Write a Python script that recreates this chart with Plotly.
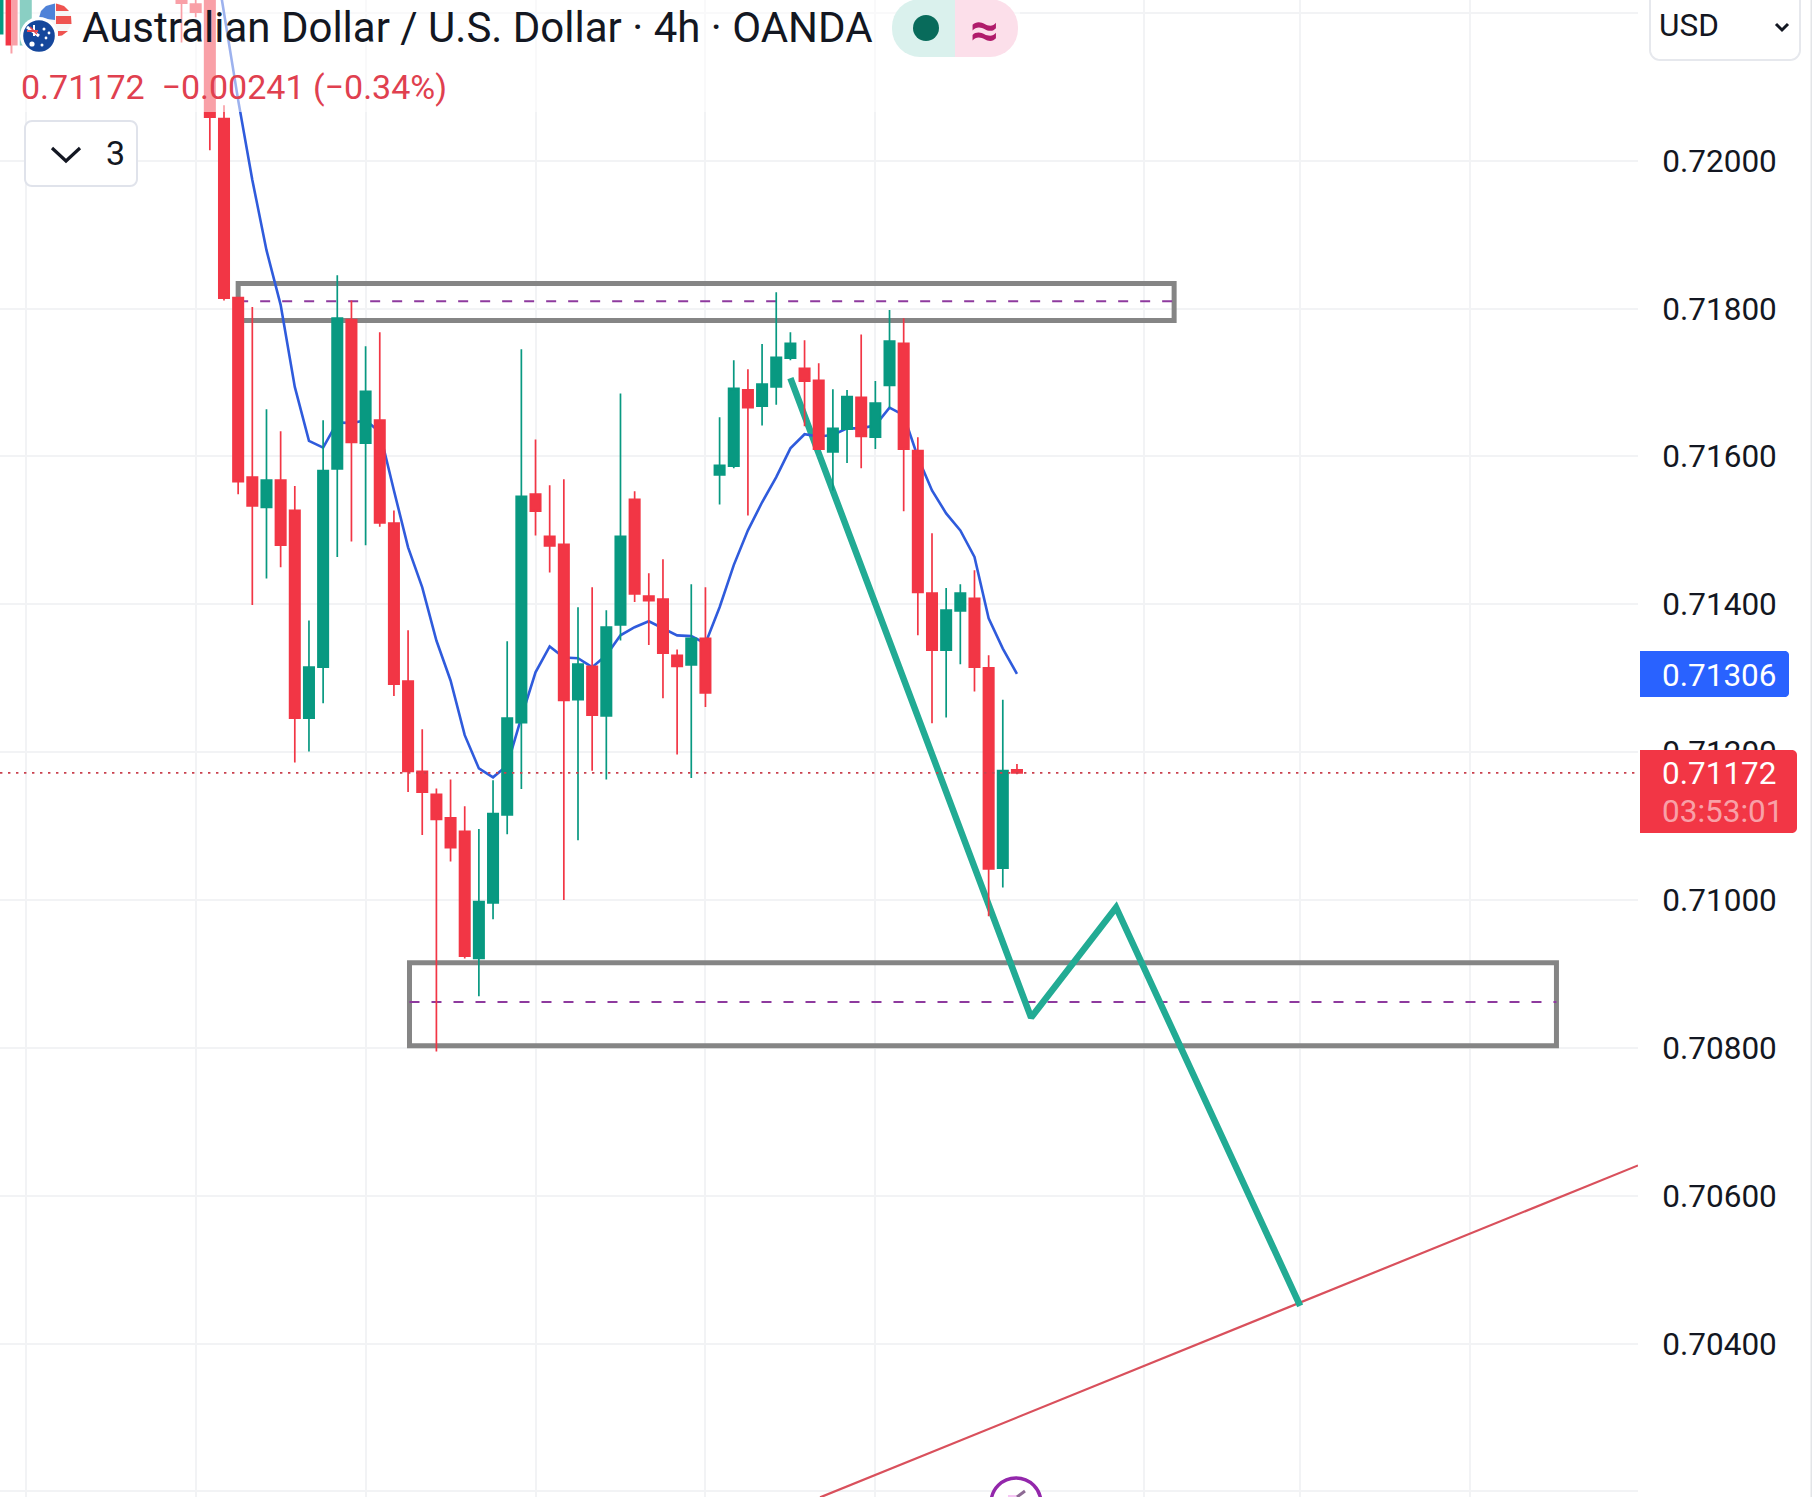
import plotly.graph_objects as go

# ---- chart values ----
candle_index = [-16, -15, -14, -3, -2, -1] + list(range(57))
open_prices = [
    .72172, .72244, .72157, .72230, .72212, .72285,
    .72057, .71815, .71572, .71531, .71568, .71527, .71246, .71315, .71583, .71785,
    .71618, .71649, .71510, .71296, .71174, .71143, .71111, .71093, .70921, .70996,
    .71115, .71240, .71549, .71492, .71481, .71271, .71316, .71249, .71372, .71542,
    .71411, .71407, .71331, .71318, .71354, .71575, .71587, .71690, .71668, .71694,
    .71733, .71719, .71703, .71606, .71637, .71680, .71626, .71696, .71753, .71608,
    .71415, .71338, .71391, .71408, .71314, .71043, .71176]
high_prices = [
    .72250, .72260, .72260, .72270, .72250, .72298,
    .72075, .71815, .71802, .71664, .71634, .71560, .71378, .71649, .71845, .71811,
    .71749, .71768, .71527, .71365, .71231, .71151, .71163, .71127, .71096, .71162,
    .71350, .71745, .71623, .71561, .71569, .71396, .71423, .71392, .71685, .71553,
    .71442, .71461, .71339, .71427, .71423, .71653, .71730, .71718, .71752, .71822,
    .71768, .71757, .71726, .71691, .71690, .71765, .71702, .71798, .71787, .71626,
    .71496, .71422, .71427, .71446, .71331, .71271, .71184]
low_prices = [
    .72172, .72145, .72157, .72160, .72194, .72014,
    .71811, .71549, .71399, .71435, .71450, .71186, .71201, .71266, .71464, .71485,
    .71480, .71505, .71276, .71146, .71088, .70795, .71052, .70921, .70870, .70974,
    .71089, .71150, .71493, .71443, .71000, .71081, .71175, .71163, .71351, .71403,
    .71345, .71273, .71197, .71165, .71261, .71535, .71584, .71520, .71642, .71670,
    .71730, .71641, .71610, .71554, .71591, .71584, .71610, .71666, .71526, .71358,
    .71239, .71247, .71319, .71282, .70978, .71017, .71170]
close_prices = [
    .72244, .72157, .72244, .72213, .72201, .72059,
    .71814, .71566, .71533, .71568, .71480, .71246, .71315, .71581, .71787, .71619,
    .71688, .71510, .71292, .71174, .71146, .71109, .71071, .70924, .70998, .71117,
    .71246, .71546, .71526, .71479, .71270, .71319, .71250, .71369, .71492, .71414,
    .71405, .71334, .71316, .71354, .71280, .71588, .71692, .71666, .71698, .71734,
    .71753, .71702, .71610, .71638, .71681, .71627, .71672, .71756, .71610, .71416,
    .71338, .71392, .71415, .71315, .71042, .71175, .71172]

ma_index = list(range(-1, 57))
ma_values = [
    .72318, .72201, .72082, .71974, .71879, .71805, .71694, .71621, .71612, .71646,
    .71645, .71649, .71633, .71554, .71477, .71423, .71351, .71297, .71223, .71178,
    .71166, .71182, .71247, .71308, .71343, .71328, .71327, .71315, .71331, .71358,
    .71369, .71377, .71368, .71358, .71357, .71347, .71396, .71453, .71500, .71538,
    .71572, .71611, .71630, .71627, .71629, .71638, .71638, .71642, .71666, .71656,
    .71599, .71554, .71523, .71500, .71464, .71381, .71340, .71306]

path_index = [40, 57, 63, 76]
path_values = [.71706, .70841, .70990, .70451]

trend_index = [42.1, 99.86]
trend_values = [.70192, .70641]

upper_zone = [1.0, 67.1, .71784, .71834]
upper_mid = .71810
lower_zone = [13.1, 94.1, .70803, .70915]
lower_mid = .70862
last_price = .71172
ma_last = .71306

price_ticks = [.702, .704, .706, .708, .710, .712, .714, .716, .718, .720, .722]
price_labels = ["0.70200", "0.70400", "0.70600", "0.70800", "0.71000", "0.71200",
                "0.71400", "0.71600", "0.71800", "0.72000", ""]
time_grid = [-14, -2, 10, 22, 34, 46, 65, 76, 88]

x_range = [-15.819, 99.859]
y_range = [.701925, .722174]

# ---- styling ----
W, H = 1812, 1497
PLOT_R = 1638
UP, DOWN = "#089981", "#f23645"
GRID = "#f2f3f5"
INK = "#131722"
FONT = "Roboto"


def px(x, y):
    return x / PLOT_R, 1 - y / H


def path_of(points, close=False):
    s = ""
    for i, (x, y) in enumerate(points):
        a, b = px(x, y)
        s += ("M" if i == 0 else "L") + f"{a:.6f},{b:.6f} "
    return s + ("Z" if close else "")


def rounded(x0, y0, x1, y1, r, corners=(True, True, True, True)):
    """rounded rectangle path in page pixels, tl tr br bl"""
    import math
    pts = []
    def arc(cx, cy, a0, rr):
        for k in range(9):
            t = math.radians(a0 + k * 90 / 8)
            pts.append((cx + rr * math.cos(t), cy + rr * math.sin(t)))
    arc(x0 + r, y0 + r, 180, r) if corners[0] else pts.append((x0, y0))
    arc(x1 - r, y0 + r, 270, r) if corners[1] else pts.append((x1, y0))
    arc(x1 - r, y1 - r, 0, r) if corners[2] else pts.append((x1, y1))
    arc(x0 + r, y1 - r, 90, r) if corners[3] else pts.append((x0, y1))
    return path_of(pts, True)


def poly(points, fill=None, line=None, w=0):
    return dict(type="path", xref="paper", yref="paper", path=path_of(points, fill is not None),
                fillcolor=fill or "rgba(0,0,0,0)", line=dict(color=line or "rgba(0,0,0,0)", width=w), layer="above")


def circle(cx, cy, r, fill, line=None, w=0):
    a0, b0 = px(cx - r, cy - r)
    a1, b1 = px(cx + r, cy + r)
    return dict(type="circle", xref="paper", yref="paper", x0=a0, x1=a1, y0=b0, y1=b1, fillcolor=fill,
                line=dict(color=line or "rgba(0,0,0,0)", width=w), layer="above")


def rect(x0, y0, x1, y1, fill, opacity=1):
    a0, b0 = px(x0, y0)
    a1, b1 = px(x1, y1)
    return dict(type="rect", xref="paper", yref="paper", x0=a0, x1=a1, y0=b0, y1=b1, fillcolor=fill,
                opacity=opacity, line=dict(width=0), layer="above")


def text(x, y, s, size, color, anchor="left", weight=None):
    a, b = px(x, y)
    font = dict(family=FONT, size=size, color=color)
    if weight:
        font["weight"] = weight
    return dict(x=a, y=b, xref="paper", yref="paper", text=s, showarrow=False, xanchor=anchor, yanchor="middle",
                font=font, borderpad=0, align="left")


fig = go.Figure()

fig.add_trace(go.Scatter(x=trend_index, y=trend_values, mode="lines", name="Trend line",
                         line=dict(color="#d9505c", width=2.2)))
fig.add_trace(go.Scatter(x=path_index, y=path_values, mode="lines", name="Projected path",
                         line=dict(color="#22ab94", width=6.5)))
fig.add_trace(go.Scatter(x=ma_index, y=ma_values, mode="lines", name="MA",
                         line=dict(color="#2f5bdc", width=2.6)))
fig.add_trace(go.Candlestick(x=candle_index, open=open_prices, high=high_prices, low=low_prices, close=close_prices,
                             xaxis="x2", yaxis="y2", name="AUD/USD",
                             increasing=dict(line=dict(color=UP, width=1.7), fillcolor=UP),
                             decreasing=dict(line=dict(color=DOWN, width=1.7), fillcolor=DOWN)))

shapes = []
# zones (behind everything drawn from data, above the grid)
for zone, mid in ((upper_zone, upper_mid), (lower_zone, lower_mid)):
    shapes.append(dict(type="rect", xref="x", yref="y", x0=zone[0], x1=zone[1], y0=zone[2], y1=zone[3],
                       line=dict(color="#858585", width=5), fillcolor="rgba(0,0,0,0)", layer="between"))
    shapes.append(dict(type="line", xref="x", yref="y", x0=zone[0], x1=zone[1], y0=mid, y1=mid,
                       line=dict(color="#8e3a9e", width=2, dash="10px,12px"), layer="between"))
# last price line
shapes.append(dict(type="line", xref="x", yref="y", x0=x_range[0], x1=x_range[1], y0=last_price, y1=last_price,
                   line=dict(color="#c9414f", width=1.8, dash="2.4px,5.6px"), layer="above"))

# header veil
shapes.append(rect(11, 0, 1020, 112, "#ffffff", 0.53))

# flags
shapes.append(circle(55, 20, 16.5, "#f6f6f6"))
shapes.append(poly([(55, 20), (39, 18), (41, 11), (46, 6), (55, 3.5)], fill="#4f82d8"))
shapes.append(poly([(56, 3.5), (64, 6), (69, 11), (56, 11)], fill="#ef5350"))
shapes.append(poly([(56, 16), (71, 16), (71.5, 24), (56, 24)], fill="#ef5350"))
shapes.append(poly([(58, 31), (68, 31), (62, 35.5), (58, 36)], fill="#ef5350"))
shapes.append(circle(39, 36, 19, "#ffffff"))
shapes.append(circle(39, 36, 15.8, "#15479c"))
shapes.append(poly([(27, 27), (39, 36)], line="#ffffff", w=3))
shapes.append(poly([(34, 25), (34, 36)], line="#ffffff", w=2))
shapes.append(poly([(27, 31), (38, 31)], line="#e5474f", w=2))
shapes.append(poly([(30, 27), (37, 34)], line="#e5474f", w=1.5))
for sx, sy, sr in ((32, 44, 2.6), (44, 29, 1.5), (49, 33, 1.4), (46, 38, 1.4), (42, 45, 1.5)):
    shapes.append(circle(sx, sy, sr, "#ffffff"))

# status pill
shapes.append(dict(type="path", xref="paper", yref="paper", layer="above", line=dict(width=0), fillcolor="#daf1ed",
                   path=rounded(892, -1, 955, 57, 28, (True, False, False, True))))
shapes.append(dict(type="path", xref="paper", yref="paper", layer="above", line=dict(width=0), fillcolor="#fcdfea",
                   path=rounded(955, -1, 1018, 57, 28, (False, True, True, False))))
shapes.append(circle(926, 28, 13, "#086b5b"))

# collapse button
shapes.append(dict(type="path", xref="paper", yref="paper", layer="above", fillcolor="#ffffff",
                   line=dict(color="#e0e3eb", width=2), path=rounded(25, 121, 137, 186, 7)))
shapes.append(poly([(52, 148), (66, 161), (80, 148)], line=INK, w=3.2))

# currency box
shapes.append(dict(type="path", xref="paper", yref="paper", layer="above", fillcolor="#ffffff",
                   line=dict(color="#e6e8ed", width=2), path=rounded(1650, -12, 1800, 60, 10)))
shapes.append(poly([(1776, 24), (1782, 30), (1788, 24)], line=INK, w=3))

# price labels
shapes.append(dict(type="path", xref="paper", yref="paper", layer="above", line=dict(width=0), fillcolor="#2962ff",
                   path=rounded(1640, 651, 1789, 697, 4, (False, True, True, False))))
shapes.append(dict(type="path", xref="paper", yref="paper", layer="above", line=dict(width=0), fillcolor=DOWN,
                   path=rounded(1640, 750, 1797, 833, 5, (False, True, True, False))))

# right edge
shapes.append(rect(1810.5, 0, 1812, H, "#e3e5e8"))

# bottom marker
shapes.append(circle(1016, 1503, 25, "#ffffff", "#9327ab", 3.4))
shapes.append(poly([(1008, 1497), (1018, 1497)], line="#f6c6f4", w=4))
shapes.append(poly([(1017, 1497), (1025, 1491)], line="#8d6a94", w=3))

annotations = [
    text(81, 27, "Australian Dollar / U.S. Dollar · 4h · OANDA", 42, INK),
    text(20, 87, "0.71172  −0.00241 (−0.34%)", 34, "#e0404f"),
    text(984, 29.5, "≈", 50, "#b01c6b", anchor="center", weight=700),
    text(105, 153, "3", 34, INK),
    text(1658, 26, "USD", 31.5, INK),
    text(1661, 675, f"{ma_last:.5f}", 31.5, "#ffffff"),
    text(1661, 773, f"{last_price:.5f}", 31.5, "#ffffff"),
    text(1661, 811, "03:53:01", 31.5, "rgba(255,255,255,0.55)"),
]

fig.update_layout(
    width=W, height=H, autosize=False,
    margin=dict(l=0, r=W - PLOT_R, t=0, b=0, pad=0),
    paper_bgcolor="#ffffff", plot_bgcolor="#ffffff",
    showlegend=False, hovermode=False,
    font=dict(family=FONT, color=INK),
    boxmode="overlay", boxgap=0.27, boxgroupgap=0,
    shapes=shapes, annotations=annotations,
    xaxis=dict(range=x_range, tickmode="array", tickvals=time_grid, showticklabels=False, ticks="",
               showgrid=True, gridcolor=GRID, gridwidth=2, zeroline=False, showline=False,
               rangeslider=dict(visible=False), fixedrange=True),
    yaxis=dict(range=y_range, side="right", tickmode="array", tickvals=price_ticks, ticktext=price_labels,
               ticks="outside", ticklen=17, tickwidth=1, tickcolor="rgba(0,0,0,0)",
               tickfont=dict(family=FONT, size=31.5, color=INK),
               showgrid=True, gridcolor=GRID, gridwidth=2, zeroline=False, showline=False, fixedrange=True),
    xaxis2=dict(range=x_range, overlaying="x", anchor="y2", visible=False,
                rangeslider=dict(visible=False), fixedrange=True),
    yaxis2=dict(range=y_range, overlaying="y", anchor="x2", visible=False, side="right", fixedrange=True),
)

fig.write_html("out.html", config=dict(displayModeBar=False),
               post_script="document.body.style.margin='0';document.documentElement.style.overflow='hidden';")
